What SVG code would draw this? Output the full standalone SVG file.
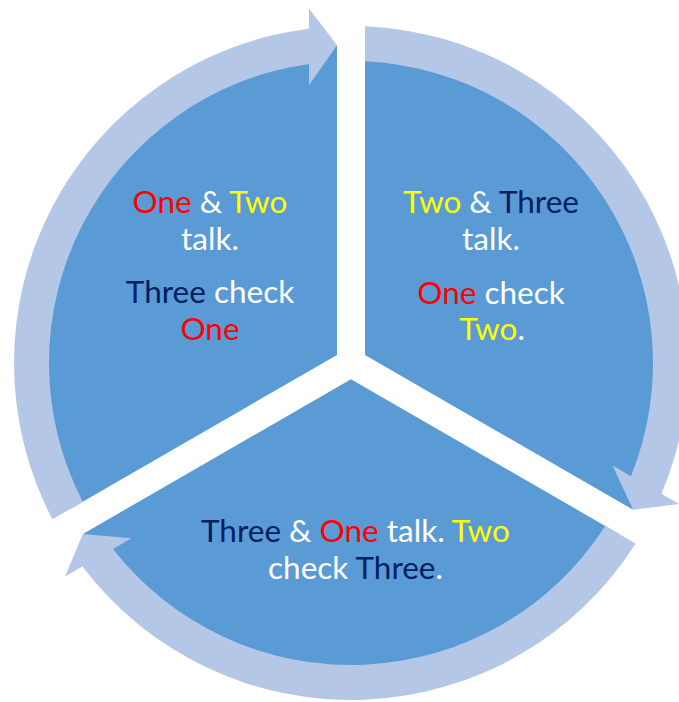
<svg xmlns="http://www.w3.org/2000/svg" width="679" height="702" viewBox="0 0 679 702">
<style>
.wedge{fill:#5B9BD5}
.arc{fill:#B4C7E7}
text{font-family:Lato,"Open Sans",sans-serif;font-size:31.5px;fill:#FFFFFF;text-anchor:middle}
.r{fill:#FF0000}
.y{fill:#FFFF00}
.n{fill:#002060}
</style>
<rect width="679" height="702" fill="#FFFFFF"/>
<g id="node-one-two">
<path class="wedge" d="M337,354.92 L68.88,509.73 A318,318 0 0 1 337,45.31 Z"/>
<text x="210" y="213"><tspan class="r">One</tspan> &amp; <tspan class="y">Two</tspan></text>
<text x="210" y="250">talk.</text>
<text x="210" y="303"><tspan class="n">Three</tspan> check</text>
<text x="210" y="340" class="r">One</text>
</g>
<g id="node-two-three">
<path class="wedge" d="M365,354.92 L365,45.31 A318,318 0 0 1 633.12,509.73 Z"/>
<text x="491" y="213"><tspan class="y">Two</tspan> &amp; <tspan class="n">Three</tspan></text>
<text x="491" y="250">talk.</text>
<text x="491" y="304"><tspan class="r">One</tspan> check</text>
<text x="492" y="340"><tspan class="y">Two</tspan>.</text>
</g>
<g id="node-three-one">
<path class="wedge" d="M351,379.17 L619.12,533.97 A318,318 0 0 1 82.88,533.97 Z"/>
<text x="355.5" y="541.5"><tspan class="n">Three</tspan> &amp; <tspan class="r">One</tspan> talk. <tspan class="y">Two</tspan></text>
<text x="355.5" y="578.5">check <tspan class="n">Three</tspan>.</text>
</g>
<g id="connectors">
<path class="arc" d="M365,26.29 A337,337 0 0 1 661.56,493.82 L679.02,503.89 L633.12,509.73 L612.61,465.55 L631,476.16 A302,302 0 0 0 365,61.32 Z"/>
<path class="arc" d="M635.6,543.48 A337,337 0 0 1 82.43,566.54 L64.98,576.62 L82.87,533.95 L131.38,538.28 L113,548.9 A302,302 0 0 0 605.26,525.96 Z"/>
<path class="arc" d="M52.41,519.24 A337,337 0 0 1 309.01,28.64 L309,8.48 L337.01,45.31 L309,85.16 L309,63.94 A302,302 0 0 0 82.74,501.72 Z"/>
</g>
</svg>
